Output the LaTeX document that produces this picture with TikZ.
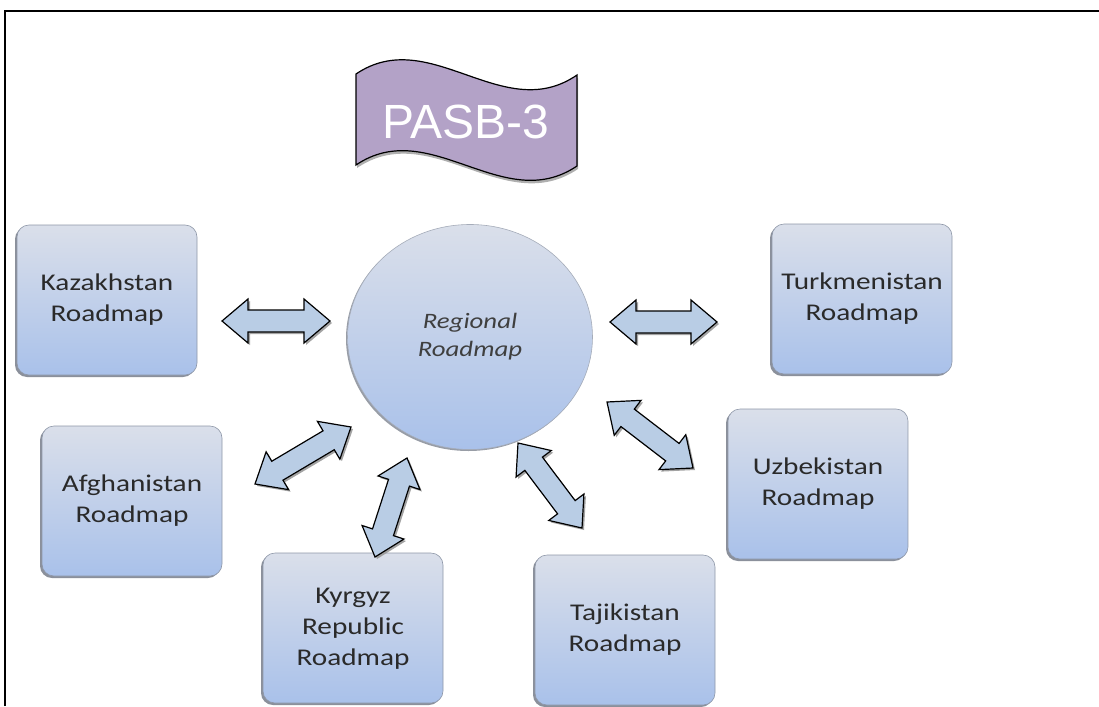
\documentclass[tikz,border=0pt]{standalone}
\usepackage{fontspec}
\usepackage{graphicx}
\setmainfont{Carlito}
\newfontfamily\arialfont{Liberation Sans}
\usetikzlibrary{calc,shadows,shapes.geometric}

\definecolor{boxtop}{HTML}{DADFEA}
\definecolor{boxbot}{HTML}{A9C1EA}
\definecolor{boxline}{HTML}{8E97A8}
\definecolor{bannerfill}{HTML}{B3A2C7}
\definecolor{arrowfill}{HTML}{B9CDE5}
\definecolor{txt}{HTML}{2A2A2A}
\definecolor{shadowgray}{HTML}{7E8490}

\newcommand{\bt}[1]{\scalebox{1.22}[1]{\begin{tabular}{@{}c@{}}#1\end{tabular}}}

% double-headed block arrow between two named coordinates
\newcommand{\dblarrow}[2]{%
  \draw[blockarrow]
    (#1)
    -- ($(#1)!26pt!(#2)!22pt!90:(#2)$)
    -- ($(#1)!26pt!(#2)!11pt!90:(#2)$)
    -- ($(#2)!26pt!(#1)!11pt!-90:(#1)$)
    -- ($(#2)!26pt!(#1)!22pt!-90:(#1)$)
    -- (#2)
    -- ($(#2)!26pt!(#1)!22pt!90:(#1)$)
    -- ($(#2)!26pt!(#1)!11pt!90:(#1)$)
    -- ($(#1)!26pt!(#2)!11pt!-90:(#2)$)
    -- ($(#1)!26pt!(#2)!22pt!-90:(#2)$)
    -- cycle;}

\begin{document}
\begin{tikzpicture}[x=1pt,y=-1pt,
  roadbox/.style={rounded corners=12pt, minimum width=180pt, minimum height=150pt,
    top color=boxtop, bottom color=boxbot, draw=boxline, line width=0.6pt,
    text=txt, inner sep=0pt,
    font=\fontsize{24}{31}\selectfont,
    drop shadow={shadow xshift=-2pt, shadow yshift=-2pt, fill=shadowgray, opacity=0.9}},
  hub/.style={ellipse, minimum width=245pt, minimum height=225pt,
    top color=boxtop, bottom color=boxbot, draw=boxline!80, line width=0.6pt,
    text=txt!90, inner sep=0pt,
    font=\fontsize{22}{28}\selectfont\itshape,
    drop shadow={shadow xshift=-1.5pt, shadow yshift=-1.5pt, fill=shadowgray, opacity=0.8}},
  blockarrow/.style={fill=arrowfill, draw=black, line width=1.2pt, line join=miter,
    drop shadow={shadow xshift=2pt, shadow yshift=-2pt, fill=gray!80, opacity=0.9}},
  bannerstyle/.style={fill=bannerfill, draw=black, line width=1.2pt,
    drop shadow={shadow xshift=1pt, shadow yshift=-3pt, fill=gray!70, opacity=0.9}},
  framestyle/.style={draw=black, line width=1.6pt}
]
\useasboundingbox (0,0) rectangle (1099,706);

% frame
\coordinate (fbl) at (5,706);
\coordinate (ftl) at (5,11);
\coordinate (ftr) at (1099,11);
\draw[framestyle] (fbl) -- (ftl) -- (ftr);

% banner
\path[bannerstyle] (356,74) .. controls (430,24) and (503,126) .. (577,75)
  -- (577,166) .. controls (503,216) and (430,115) .. (356,165) -- cycle;
\node[text=white, font=\arialfont\fontsize{48}{50}\selectfont, inner sep=0pt] (pasb) at (466,122) {PASB-3};

% hub
\node[hub] (hub) at (470,337) {\bt{Regional\\Roadmap}};

% boxes
\node[roadbox] (kaz) at (107,300) {\bt{Kazakhstan\\Roadmap}};
\node[roadbox] (tkm) at (862,299) {\bt{Turkmenistan\\Roadmap}};
\node[roadbox] (uzb) at (818,484) {\bt{Uzbekistan\\Roadmap}};
\node[roadbox] (afg) at (132,501) {\bt{Afghanistan\\Roadmap}};
\node[roadbox] (kgz) at (353,628) {\bt{Kyrgyz\\Republic\\Roadmap}};
\node[roadbox] (tjk) at (625,630) {\bt{Tajikistan\\Roadmap}};

% arrow end points
\coordinate (a1) at (222,321); \coordinate (b1) at (330,321);
\coordinate (a2) at (610,322); \coordinate (b2) at (717,322);
\coordinate (a3) at (607,402); \coordinate (b3) at (693,468);
\coordinate (a4) at (518,443); \coordinate (b4) at (582,528);
\coordinate (a5) at (407,458); \coordinate (b5) at (375,557);
\coordinate (a6) at (351,427); \coordinate (b6) at (255,484);

\dblarrow{a1}{b1}
\dblarrow{a2}{b2}
\dblarrow{a3}{b3}
\dblarrow{a4}{b4}
\dblarrow{a5}{b5}
\dblarrow{a6}{b6}
\end{tikzpicture}
\end{document}
